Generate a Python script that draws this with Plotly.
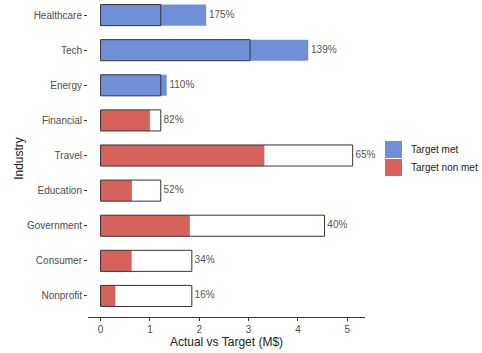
import plotly.graph_objects as go

# Industry performance: actual revenue vs target (M$)
industries = ["Healthcare", "Tech", "Energy", "Financial", "Travel",
              "Education", "Government", "Consumer", "Nonprofit"]
actual = [2.14, 4.21, 1.34, 1.00, 3.32, 0.635, 1.81, 0.63, 0.30]
target = [1.22, 3.03, 1.22, 1.22, 5.11, 1.22, 4.54, 1.85, 1.85]
legend_labels = ["Target met", "Target non met"]

BLUE = "#6f8fd8"
RED = "#d6625b"
FONT = "Liberation Sans, Arial, sans-serif"

W, H = 482, 353
ML, MR, MT, MB = 88, 117, 0, 36
PW, PH = W - ML - MR, H - MT - MB

n = len(industries)
pos = [n - 1 - i for i in range(n)]  # Healthcare at the top
met = [a >= t for a, t in zip(actual, target)]
pct = [f" {round(a / t * 100)}%" for a, t in zip(actual, target)]

fig = go.Figure()

for flag, name, color in [(True, legend_labels[0], BLUE), (False, legend_labels[1], RED)]:
    idx = [i for i in range(n) if met[i] == flag]
    fig.add_trace(go.Bar(
        x=[actual[i] for i in idx], y=[pos[i] for i in idx],
        orientation="h", width=0.6, name=name, showlegend=False,
        marker=dict(color=color, line=dict(width=0)),
    ))

# target outlines drawn over the actual bars
fig.add_trace(go.Bar(
    x=target, y=pos, orientation="h", width=0.6, showlegend=False,
    marker=dict(color="rgba(0,0,0,0)", line=dict(color="#333333", width=1)),
))

# percentage labels at the end of the longer bar
fig.add_trace(go.Scatter(
    x=[max(a, t) for a, t in zip(actual, target)], y=pos,
    mode="text", text=pct, textposition="middle right", cliponaxis=False,
    textfont=dict(size=10, color="#555555", family=FONT),
    showlegend=False, hoverinfo="skip",
))


def px_x(px):
    return (px - ML) / PW


def px_y(py):
    return 1 - (py - MT) / PH


# legend keys and labels placed beside the panel
for k, (label, color) in enumerate(zip(legend_labels, [BLUE, RED])):
    top = 141 + k * 18
    fig.add_shape(type="rect", xref="paper", yref="paper",
                  x0=px_x(385), x1=px_x(402), y0=px_y(top + 17), y1=px_y(top),
                  fillcolor=color, line=dict(width=0))
    fig.add_annotation(xref="paper", yref="paper", x=px_x(409),
                       y=px_y(top + 8.5), text=label, showarrow=False,
                       xanchor="left", yanchor="middle",
                       font=dict(size=10, color="#222222", family=FONT))

fig.update_layout(
    width=W, height=H, barmode="overlay", showlegend=False,
    margin=dict(l=ML, r=MR, t=MT, b=MB, autoexpand=False),
    plot_bgcolor="white", paper_bgcolor="white",
    font=dict(family=FONT, color="#4d4d4d"),
    xaxis=dict(range=[-0.255, 5.36], tickvals=[0, 1, 2, 3, 4, 5],
               showgrid=False, zeroline=False, showline=True,
               linecolor="#333333", linewidth=1, ticks="outside",
               ticklen=3, tickcolor="#333333", automargin=False,
               tickfont=dict(size=10, color="#4d4d4d"),
               title=dict(text="Actual vs Target (M$)", standoff=2,
                          font=dict(size=12, color="#222222"))),
    yaxis=dict(range=[-0.6, 8.43], tickvals=pos, ticktext=industries,
               showgrid=False, zeroline=False, showline=False,
               ticks="outside", ticklen=3, tickcolor="#333333",
               automargin=False,
               tickfont=dict(size=10, color="#4d4d4d"),
               title=dict(text="Industry", standoff=0,
                          font=dict(size=12, color="#222222"))),
)

fig.write_html("out.html")
